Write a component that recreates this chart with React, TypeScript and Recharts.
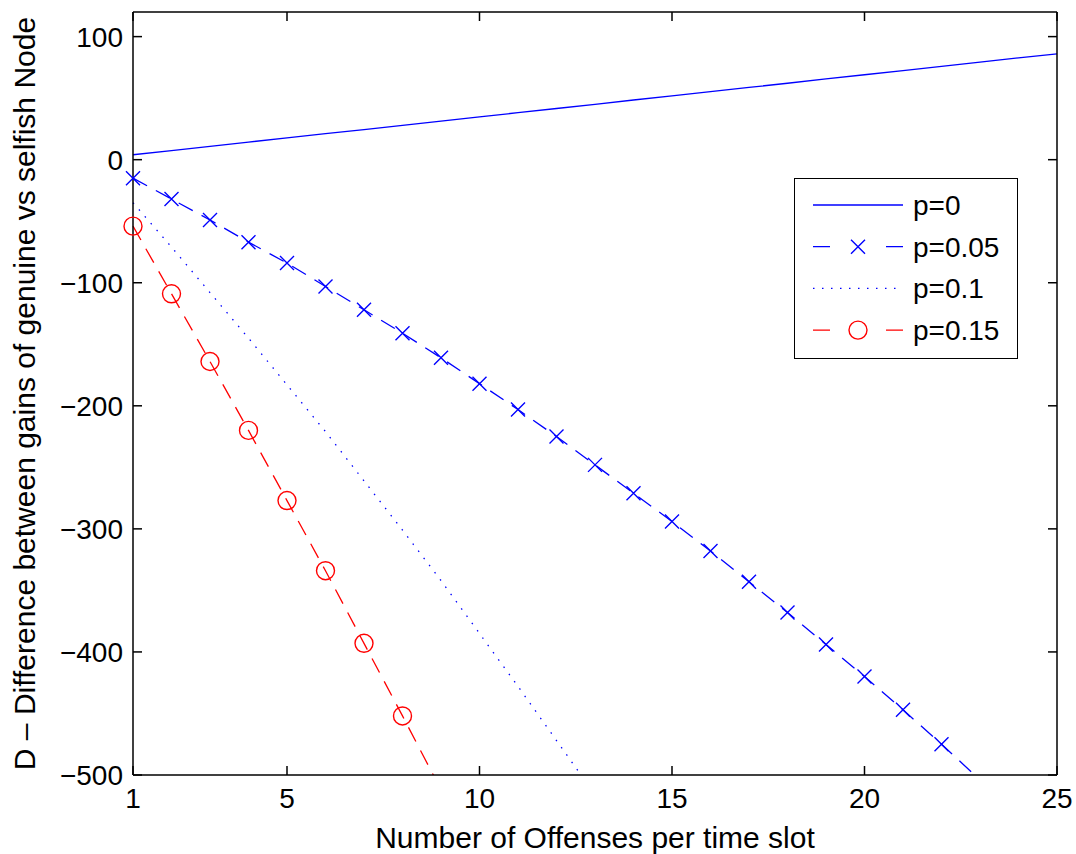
import { LineChart, Line, XAxis, YAxis, Legend } from "recharts";

const offenses = [1, 2, 3, 4, 5, 6, 7, 8, 9, 10, 11, 12, 13, 14, 15, 16, 17, 18, 19, 20, 21, 22, 23, 24, 25];
const p0 = [4, 7.4, 10.8, 14.3, 17.7, 21.1, 24.5, 27.9, 31.4, 34.8, 38.2, 41.6, 45, 48.5, 51.9, 55.3, 58.7, 62.1, 65.6, 69, 72.4, 75.8, 79.2, 82.7, 86];
const p005 = [-15, -32, -49, -67, -84, -103, -122, -141, -161, -182, -203, -225, -248, -271, -294, -318, -343, -368, -394, -420, -447, -475, -504];
const p01 = [-35, -71, -108, -145, -183, -221, -261, -301, -342, -385, -428, -472, -516];
const p015 = [-54, -109, -164, -220, -277, -334, -393, -452, -512];

const xTicks = [1, 5, 10, 15, 20, 25];
const yTicks = [-500, -400, -300, -200, -100, 0, 100];

const data = offenses.map((x, i) => ({
  x,
  p0: p0[i],
  p005: p005[i],
  p01: p01[i],
  p015: p015[i],
}));

const BLUE = "#0000ff";
const RED = "#ff0000";
const FONT = "'Liberation Sans', Arial, Helvetica, sans-serif";
const YMIN = -500;

const CrossDot = (props: any) => {
  const { cx, cy, payload, index } = props;
  if (cx == null || cy == null || payload.p005 < YMIN) return <g key={`c-${index}`} />;
  const s = 7;
  return (
    <path
      key={`c-${index}`}
      d={`M${cx - s},${cy - s}L${cx + s},${cy + s}M${cx - s},${cy + s}L${cx + s},${cy - s}`}
      stroke={BLUE}
      strokeWidth={1.4}
      fill="none"
    />
  );
};

const CircleDot = (props: any) => {
  const { cx, cy, payload, index } = props;
  if (cx == null || cy == null || payload.p015 < YMIN) return <g key={`o-${index}`} />;
  return <circle key={`o-${index}`} cx={cx} cy={cy} r={9} stroke={RED} strokeWidth={1.4} fill="none" />;
};

const legendStyle: Record<string, { dash?: string; marker?: "x" | "o" }> = {
  "p=0": {},
  "p=0.05": { dash: "17 56", marker: "x" },
  "p=0.1": { dash: "1.5 7.5" },
  "p=0.15": { dash: "17 56", marker: "o" },
};

const renderLegend = (props: any) => {
  const payload = props.payload || [];
  return (
    <svg width={224} height={181} style={{ display: "block" }}>
      <rect x={0.5} y={0.5} width={223} height={180} fill="#fff" stroke="#000" strokeWidth={1} />
      {payload.map((item: any, i: number) => {
        const y = 27 + i * 41.7;
        const st = legendStyle[item.value] || {};
        return (
          <g key={item.value}>
            <line x1={19} x2={109} y1={y} y2={y} stroke={item.color} strokeWidth={1.3} strokeDasharray={st.dash} />
            {st.marker === "x" && (
              <path d={`M57,${y - 7}L71,${y + 7}M57,${y + 7}L71,${y - 7}`} stroke={item.color} strokeWidth={1.4} />
            )}
            {st.marker === "o" && <circle cx={64} cy={y} r={9} stroke={item.color} strokeWidth={1.4} fill="none" />}
            <text x={119} y={y} dy="0.36em" fontSize={28} fontFamily={FONT} fill="#000">
              {item.value}
            </text>
          </g>
        );
      })}
    </svg>
  );
};

const App = () => {
  return (
    <div style={{ position: "absolute", left: 0, top: 0, background: "#fff" }}>
      <LineChart width={1076} height={854} data={data} margin={{ top: 0, right: 0, bottom: 0, left: 0 }}>
        <XAxis
          xAxisId="b"
          dataKey="x"
          type="number"
          domain={[1, 25]}
          ticks={xTicks}
          orientation="bottom"
          height={79}
          tickSize={-9}
          tickMargin={22}
          stroke="#000"
          strokeWidth={1.5}
          tick={{ fill: "#000", fontSize: 28, fontFamily: FONT }}
          label={{
            content: (p: any) => (
              <text
                x={p.viewBox.x + p.viewBox.width / 2}
                y={p.viewBox.y + 73}
                textAnchor="middle"
                fontSize={30}
                fontFamily={FONT}
                fill="#000"
              >
                Number of Offenses per time slot
              </text>
            ),
          }}
        />
        <XAxis
          xAxisId="t"
          dataKey="x"
          type="number"
          domain={[1, 25]}
          ticks={xTicks}
          orientation="top"
          height={12}
          tickSize={-9}
          stroke="#000"
          strokeWidth={1.5}
          tick={() => <g />}
        />
        <YAxis
          yAxisId="l"
          type="number"
          domain={[YMIN, 120]}
          ticks={yTicks}
          allowDataOverflow
          width={133}
          tickSize={-9}
          tickMargin={19}
          stroke="#000"
          strokeWidth={1.5}
          tick={{ fill: "#000", fontSize: 28, fontFamily: FONT }}
          tickFormatter={(v: number) => (v < 0 ? `\u2212${Math.abs(v)}` : `${v}`)}
          label={{
            content: (p: any) => {
              const cx = p.viewBox.x + 35;
              const cy = p.viewBox.y + p.viewBox.height / 2;
              return (
                <text
                  x={cx}
                  y={cy}
                  transform={`rotate(-90, ${cx}, ${cy})`}
                  textAnchor="middle"
                  fontSize={30}
                  fontFamily={FONT}
                  fill="#000"
                >
                  D – Difference between gains of genuine vs selfish Node
                </text>
              );
            },
          }}
        />
        <YAxis
          yAxisId="r"
          type="number"
          orientation="right"
          domain={[YMIN, 120]}
          ticks={yTicks}
          allowDataOverflow
          width={19}
          tickSize={-9}
          stroke="#000"
          strokeWidth={1.5}
          tick={() => <g />}
        />
        <Legend
          layout="vertical"
          align="center"
          verticalAlign="middle"
          content={renderLegend}
          wrapperStyle={{ left: 794, top: 178, width: 224, height: 181 }}
        />
        <Line
          xAxisId="b"
          yAxisId="l"
          dataKey="p0"
          name="p=0"
          stroke={BLUE}
          strokeWidth={1.3}
          dot={false}
          isAnimationActive={false}
        />
        <Line
          xAxisId="b"
          yAxisId="l"
          dataKey="p005"
          name="p=0.05"
          stroke={BLUE}
          strokeWidth={1.3}
          strokeDasharray="16 10"
          dot={CrossDot}
          isAnimationActive={false}
        />
        <Line
          xAxisId="b"
          yAxisId="l"
          dataKey="p01"
          name="p=0.1"
          stroke={BLUE}
          strokeWidth={1.3}
          strokeDasharray="1.5 7.5"
          dot={false}
          isAnimationActive={false}
        />
        <Line
          xAxisId="b"
          yAxisId="l"
          dataKey="p015"
          name="p=0.15"
          stroke={RED}
          strokeWidth={1.3}
          strokeDasharray="16 10"
          dot={CircleDot}
          isAnimationActive={false}
        />
      </LineChart>
    </div>
  );
};

export default App;
